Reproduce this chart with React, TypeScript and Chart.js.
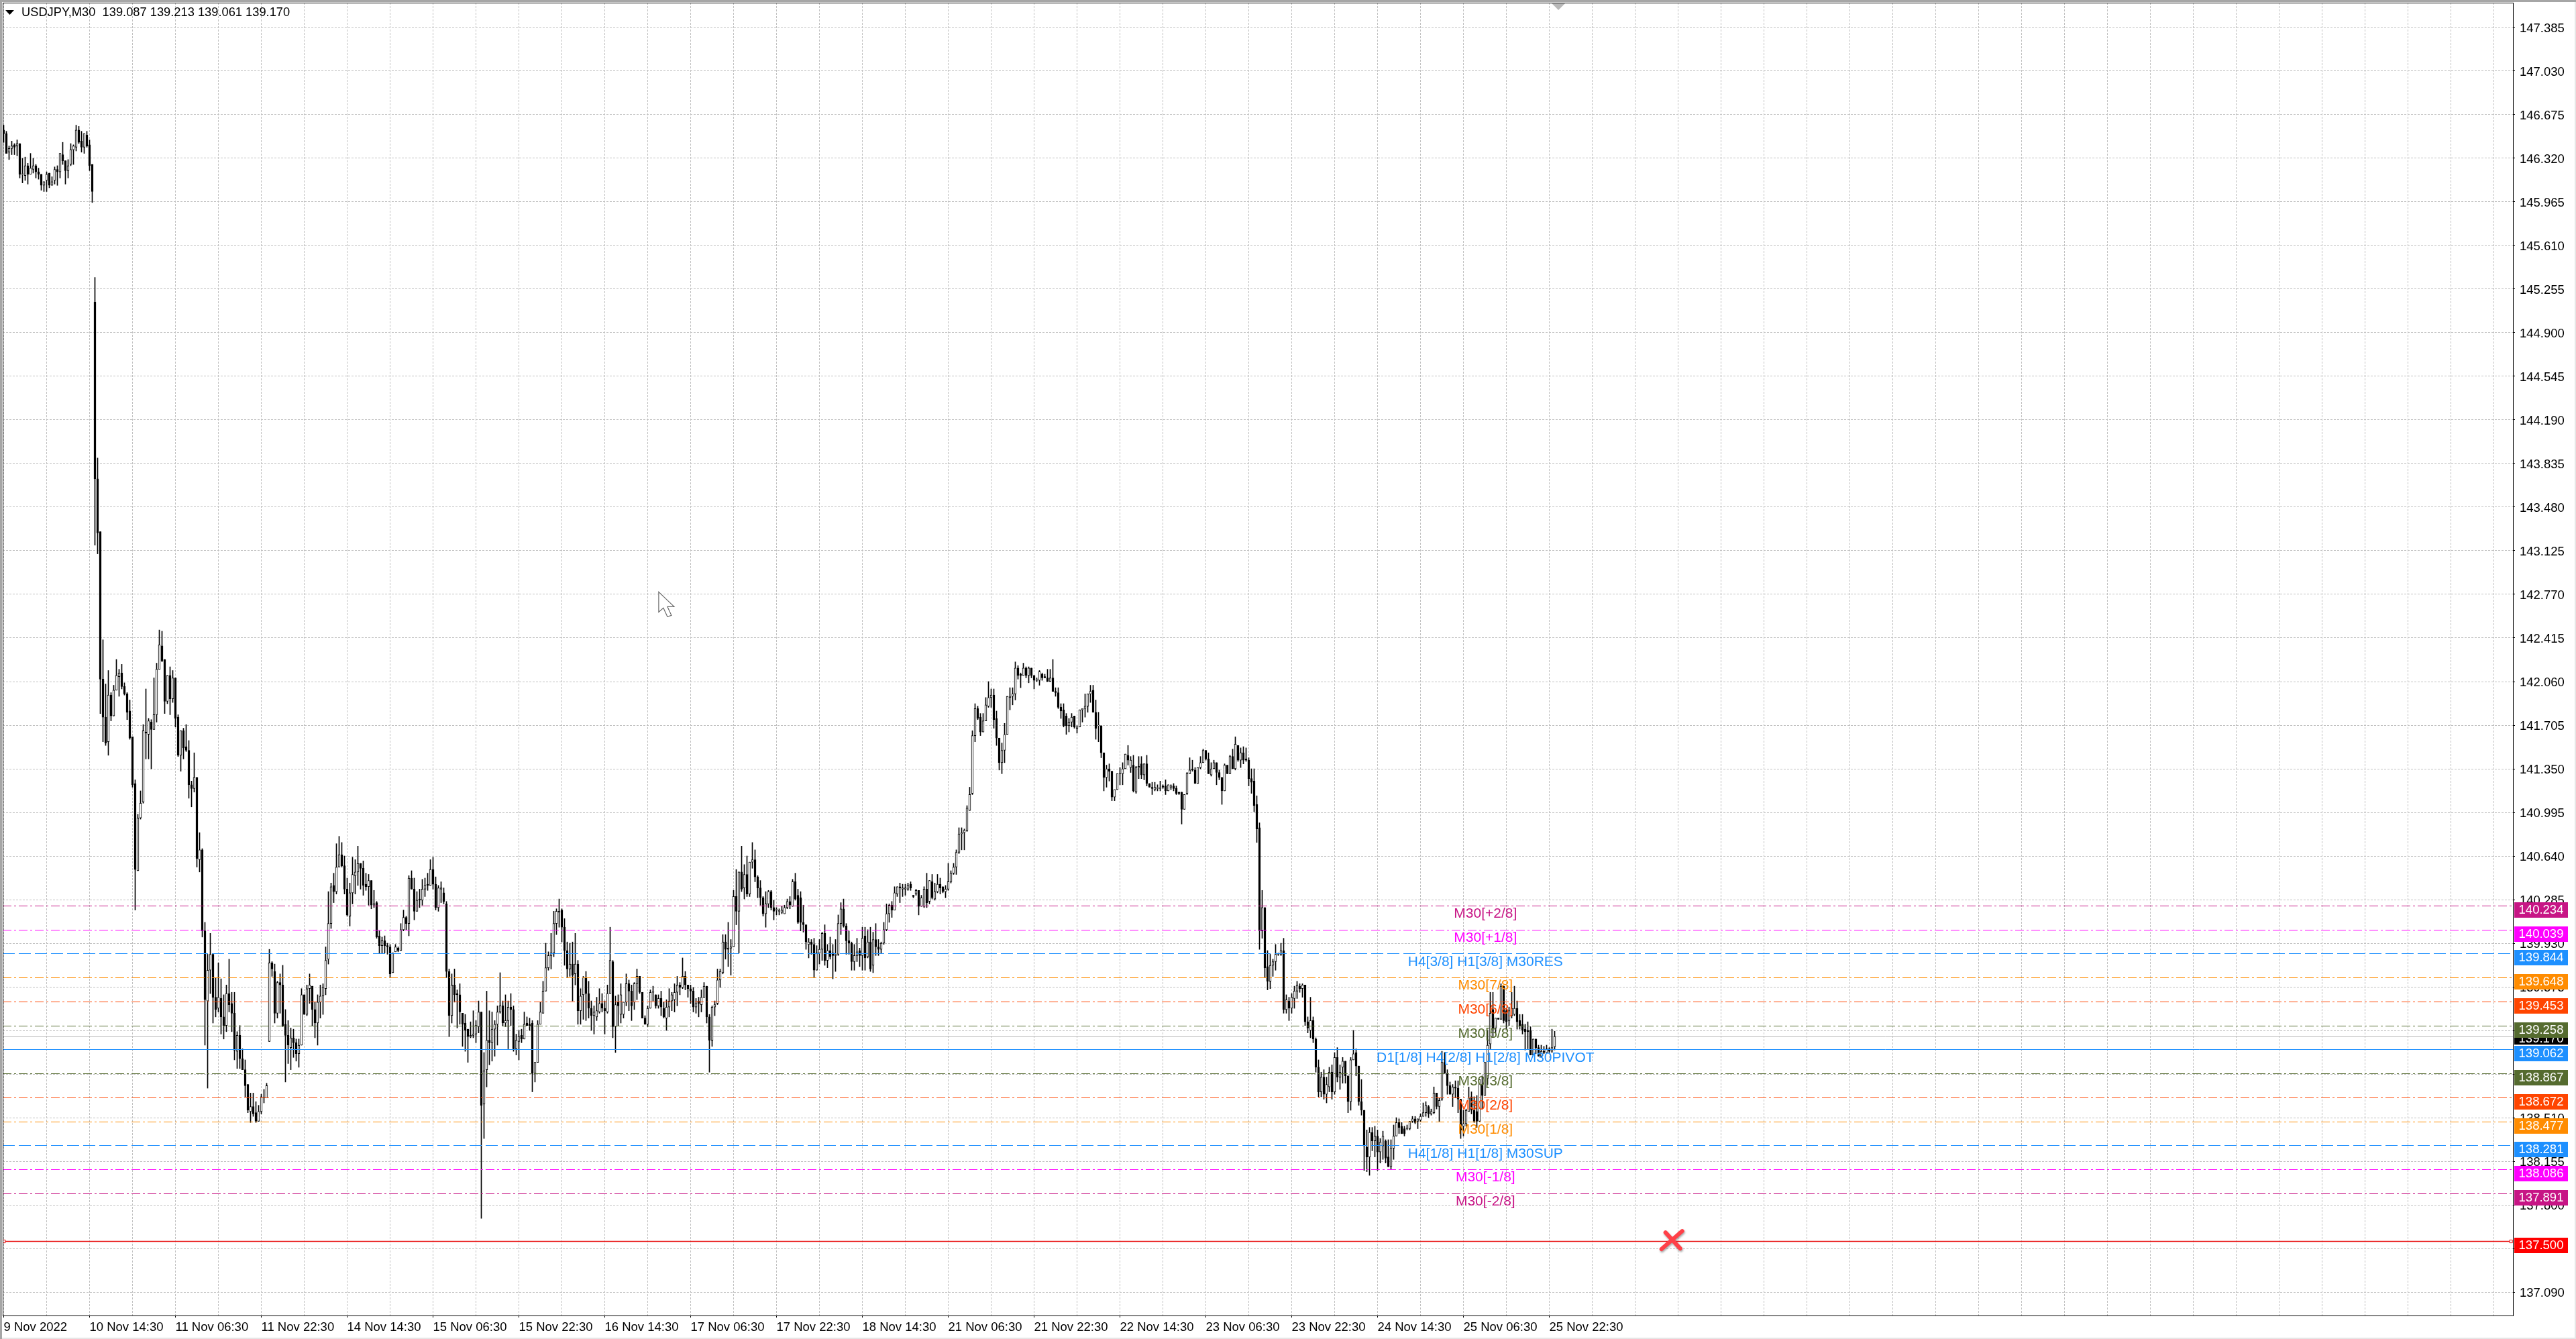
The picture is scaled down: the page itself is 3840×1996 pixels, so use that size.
import { useEffect, useRef } from "react";
import { Chart, registerables } from "chart.js";
Chart.register(...registerables);

// [open, high, low, close], every 32 bars of M30 data starting at 9 Nov 22:30
const bars09Nov = [
[146.55,146.59,146.45,146.52],[146.52,146.54,146.36,146.36],[146.37,146.42,146.31,146.40],[146.40,146.46,146.35,146.42],[146.43,146.44,146.35,146.41],[146.42,146.47,146.34,146.44],[146.44,146.44,146.16,146.19],[146.19,146.32,146.12,146.19],
[146.18,146.33,146.14,146.26],[146.26,146.28,146.11,146.19],[146.19,146.36,146.19,146.24],[146.23,146.32,146.20,146.26],[146.26,146.27,146.16,146.21],[146.21,146.24,146.15,146.19],[146.19,146.19,146.06,146.10],[146.10,146.13,146.05,146.13],
[146.14,146.21,146.05,146.19],[146.20,146.20,146.08,146.10],[146.10,146.17,146.10,146.13],[146.14,146.25,146.11,146.23],[146.23,146.26,146.10,146.21],[146.21,146.36,146.16,146.36],[146.35,146.45,146.27,146.30],[146.30,146.30,146.11,146.22],
[146.22,146.31,146.16,146.26],[146.27,146.44,146.26,146.39],[146.39,146.43,146.27,146.42],[146.41,146.59,146.38,146.55],[146.55,146.58,146.44,146.45],[146.46,146.54,146.37,146.41],[146.41,146.52,146.36,146.52],[146.51,146.54,146.41,146.42],
];
const bars10Nov = [
[146.43,146.47,146.22,146.26],[146.27,146.27,145.96,146.05],[145.15,145.35,143.17,143.71],[143.71,143.88,143.10,143.27],[143.28,143.28,141.80,142.08],[142.08,142.40,141.57,141.77],[141.77,142.04,141.54,141.56],[141.57,142.15,141.46,141.95],
[141.95,141.97,141.74,141.78],[141.78,142.03,141.78,141.99],[141.99,142.24,141.99,142.11],[142.10,142.16,141.94,142.13],[142.13,142.20,142.00,142.02],[142.02,142.05,141.95,141.96],[141.96,141.97,141.75,141.81],[141.82,141.91,141.59,141.60],
[141.61,141.61,141.20,141.22],[141.23,141.26,140.20,140.53],[140.52,140.98,140.52,140.95],[140.95,141.17,140.94,141.07],[141.08,141.71,141.07,141.66],[141.65,142.00,141.43,141.64],[141.63,141.76,141.43,141.74],[141.73,141.75,141.35,141.67],
[141.67,142.09,141.67,141.79],[141.79,142.21,141.73,142.16],[142.16,142.48,142.16,142.36],[142.35,142.47,142.22,142.23],[142.24,142.24,141.80,141.90],[141.90,142.11,141.88,142.11],[142.11,142.18,141.79,141.92],[141.92,142.15,141.89,142.09],
];
const bars11NovA = [
[142.09,142.09,141.69,141.76],[141.77,141.79,141.45,141.46],[141.46,141.66,141.33,141.66],[141.66,141.68,141.43,141.52],[141.53,141.71,141.49,141.50],[141.50,141.58,141.11,141.22],[141.22,141.25,141.04,141.19],[141.19,141.48,141.16,141.28],
[141.28,141.28,140.55,140.62],[140.61,140.83,140.51,140.69],[140.69,140.70,139.98,140.03],[140.03,140.10,139.10,139.47],[139.46,139.84,138.75,139.71],[139.71,140.01,139.52,139.84],[139.84,139.84,139.28,139.49],[139.49,139.65,139.33,139.39],
[139.40,139.77,139.37,139.49],[139.48,139.64,139.19,139.33],[139.33,139.51,139.15,139.26],[139.26,139.59,139.21,139.52],[139.52,139.80,139.37,139.43],[139.44,139.53,139.21,139.36],[139.36,139.53,138.98,139.06],[139.05,139.21,138.91,139.18],
[139.18,139.26,138.91,138.99],[138.99,139.07,138.90,138.90],[138.90,138.98,138.68,138.77],[138.78,138.78,138.55,138.57],[138.56,138.71,138.47,138.60],[138.60,138.71,138.52,138.54],[138.55,138.64,138.47,138.48],[138.48,138.61,138.48,138.56],
];
const bars11NovB = [
[138.56,138.70,138.54,138.68],[138.67,138.74,138.63,138.67],[138.67,138.79,138.67,138.77],[139.13,139.88,139.13,139.77],[139.77,139.78,139.66,139.72],[139.70,139.76,139.28,139.36],[139.36,139.62,139.32,139.61],[139.61,139.68,139.36,139.59],
[139.59,139.75,139.25,139.26],[139.27,139.39,138.80,139.18],[139.18,139.30,138.95,139.10],[139.08,139.24,138.90,139.16],[139.16,139.23,139.00,139.12],[139.12,139.15,138.97,139.03],[139.03,139.15,138.92,139.10],[139.10,139.56,139.10,139.51],
[139.51,139.51,139.35,139.35],[139.35,139.59,139.34,139.56],[139.56,139.68,139.44,139.59],[139.58,139.58,139.26,139.39],[139.39,139.45,139.16,139.28],[139.28,139.51,139.10,139.45],[139.45,139.59,139.32,139.50],[139.50,139.60,139.35,139.57],
[139.56,139.90,139.51,139.79],[139.80,140.35,139.76,140.09],[140.09,140.42,140.05,140.39],[140.40,140.50,140.26,140.35],[140.35,140.74,140.33,140.55],[140.55,140.80,140.55,140.65],[140.65,140.75,140.55,140.56],[140.56,140.64,140.33,140.37],
];
const bars14Nov = [
[140.37,140.46,140.15,140.16],[140.15,140.42,140.07,140.34],[140.34,140.63,140.25,140.49],[140.48,140.61,140.33,140.51],[140.51,140.72,140.40,140.58],[140.58,140.58,140.37,140.54],[140.54,140.60,140.32,140.40],[140.41,140.50,140.36,140.39],
[140.39,140.49,140.24,140.44],[140.44,140.44,140.21,140.24],[140.24,140.36,140.22,140.25],[140.26,140.27,139.97,139.98],[139.99,140.03,139.85,139.91],[139.91,139.98,139.85,139.95],[139.95,139.99,139.85,139.91],[139.91,139.93,139.84,139.90],
[139.90,139.92,139.65,139.68],[139.69,139.85,139.69,139.85],[139.86,139.92,139.86,139.90],[139.89,139.90,139.86,139.87],[139.87,140.09,139.87,140.04],[140.04,140.20,140.03,140.14],[140.14,140.15,140.04,140.09],[140.09,140.48,139.99,140.46],
[140.46,140.52,140.37,140.37],[140.37,140.46,140.12,140.19],[140.19,140.35,140.19,140.28],[140.29,140.37,140.22,140.28],[140.28,140.45,140.24,140.37],[140.37,140.46,140.31,140.40],[140.41,140.50,140.36,140.40],[140.40,140.61,140.40,140.53],
];
const bars15NovA = [
[140.53,140.63,140.37,140.41],[140.41,140.47,140.20,140.22],[140.22,140.40,140.19,140.38],[140.37,140.43,140.26,140.38],[140.34,140.38,140.25,140.27],[140.25,140.27,139.65,139.70],[139.70,139.72,139.17,139.34],[139.34,139.68,139.28,139.59],
[139.59,139.72,139.45,139.51],[139.52,139.55,139.24,139.51],[139.51,139.60,139.27,139.37],[139.36,139.36,139.09,139.27],[139.28,139.35,139.05,139.22],[139.23,139.23,138.96,139.17],[139.17,139.29,139.16,139.18],[139.18,139.38,139.16,139.19],
[139.19,139.30,139.12,139.26],[139.25,139.46,139.20,139.37],[139.37,139.37,137.69,138.61],[138.62,139.04,138.34,138.89],[138.90,139.54,138.76,139.14],[139.14,139.38,138.94,139.12],[139.12,139.37,138.97,139.23],[139.23,139.30,139.01,139.27],
[139.27,139.42,139.10,139.37],[139.37,139.69,139.36,139.42],[139.42,139.46,139.26,139.28],[139.28,139.51,139.25,139.30],[139.30,139.46,139.07,139.41],[139.41,139.52,139.26,139.39],[139.39,139.42,139.05,139.07],[139.07,139.19,139.02,139.14],
];
const bars15NovB = [
[139.13,139.22,138.98,139.17],[139.18,139.23,139.12,139.15],[139.15,139.37,139.15,139.27],[139.28,139.33,139.26,139.26],[139.27,139.32,139.22,139.26],[139.28,139.30,138.72,138.87],[138.87,138.96,138.80,138.96],[138.96,139.30,138.96,139.27],
[139.27,139.45,139.27,139.37],[139.36,139.62,139.36,139.54],[139.54,139.93,139.54,139.73],[139.73,139.86,139.71,139.83],[139.83,140.01,139.72,139.85],[139.85,140.19,139.82,140.09],[140.09,140.21,140.00,140.19],[140.18,140.29,140.06,140.19],
[140.20,140.21,139.94,140.06],[140.06,140.13,139.75,139.87],[139.87,139.94,139.65,139.72],[139.72,139.93,139.66,139.76],[139.76,139.94,139.46,139.67],[139.68,140.01,139.59,139.76],[139.76,139.79,139.27,139.38],[139.38,139.56,139.27,139.50],
[139.51,139.66,139.31,139.65],[139.65,139.70,139.30,139.52],[139.52,139.62,139.32,139.40],[139.40,139.46,139.22,139.34],[139.34,139.42,139.19,139.37],[139.33,139.49,139.30,139.38],[139.37,139.56,139.36,139.44],[139.44,139.52,139.37,139.40],
];
const bars16Nov = [
[139.40,139.46,139.19,139.38],[139.37,139.59,139.36,139.52],[139.52,140.06,139.52,139.79],[139.78,139.79,139.16,139.25],[139.25,139.50,139.04,139.43],[139.45,139.51,139.26,139.42],[139.35,139.60,139.28,139.51],[139.35,139.45,139.32,139.45],
[139.45,139.68,139.42,139.60],[139.60,139.63,139.38,139.54],[139.54,139.59,139.30,139.42],[139.45,139.61,139.39,139.60],[139.60,139.72,139.47,139.66],[139.66,139.66,139.52,139.53],[139.53,139.53,139.32,139.32],[139.32,139.34,139.27,139.27],
[139.27,139.42,139.25,139.40],[139.40,139.55,139.40,139.53],[139.53,139.58,139.46,139.53],[139.51,139.51,139.40,139.42],[139.42,139.51,139.40,139.48],[139.48,139.54,139.34,139.41],[139.40,139.45,139.32,139.33],[139.32,139.47,139.22,139.41],
[139.41,139.56,139.33,139.46],[139.46,139.53,139.38,139.51],[139.47,139.60,139.37,139.53],[139.53,139.66,139.42,139.59],[139.59,139.61,139.51,139.57],[139.57,139.81,139.56,139.66],[139.66,139.70,139.55,139.59],[139.59,139.59,139.49,139.56],
];
const bars17NovA = [
[139.56,139.59,139.44,139.54],[139.54,139.57,139.37,139.41],[139.41,139.48,139.36,139.44],[139.46,139.49,139.33,139.44],[139.43,139.55,139.37,139.49],[139.49,139.61,139.49,139.58],[139.58,139.58,139.28,139.33],[139.33,139.35,138.88,139.14],
[139.14,139.42,139.09,139.41],[139.41,139.46,139.34,139.43],[139.44,139.72,139.43,139.63],[139.63,139.72,139.57,139.70],[139.69,140.00,139.68,139.94],[139.94,140.00,139.80,139.88],[139.88,140.10,139.74,139.89],[139.89,139.96,139.67,139.90],
[139.90,140.36,139.90,140.31],[140.31,140.53,140.08,140.19],[140.19,140.51,139.85,140.51],[140.51,140.72,140.35,140.37],[140.38,140.57,140.29,140.49],[140.49,140.64,140.31,140.33],[140.33,140.59,140.31,140.59],[140.59,140.75,140.54,140.61],
[140.61,140.69,140.43,140.47],[140.47,140.48,140.30,140.38],[140.38,140.44,140.24,140.30],[140.30,140.31,140.15,140.17],[140.17,140.35,140.06,140.25],[140.25,140.36,140.22,140.35],[140.35,140.36,140.20,140.22],[140.22,140.28,140.12,140.19],
];
const bars17NovB = [
[140.20,140.22,140.16,140.20],[140.19,140.21,140.16,140.19],[140.18,140.23,140.17,140.20],[140.17,140.24,140.17,140.22],[140.22,140.29,140.21,140.27],[140.27,140.31,140.21,140.24],[140.23,140.45,140.23,140.43],[140.43,140.50,140.28,140.29],
[140.32,140.37,140.09,140.10],[140.30,140.35,140.03,140.10],[140.10,140.24,140.02,140.08],[140.08,140.08,139.88,139.94],[139.92,139.97,139.81,139.94],[139.94,139.96,139.84,139.92],[139.92,139.97,139.65,139.71],[139.71,139.91,139.71,139.85],
[139.85,139.96,139.76,139.88],[139.88,140.02,139.79,140.01],[140.01,140.08,139.75,139.79],[139.79,139.92,139.73,139.87],[139.87,139.98,139.80,139.82],[139.85,139.92,139.64,139.83],[139.83,139.96,139.70,139.84],[139.84,140.16,139.83,140.09],
[140.09,140.26,140.00,140.21],[140.21,140.29,140.06,140.07],[140.07,140.09,139.84,139.95],[139.95,140.03,139.84,139.93],[139.93,139.94,139.71,139.78],[139.78,139.92,139.71,139.83],[139.83,139.97,139.78,139.86],[139.87,139.89,139.74,139.83],
];
const bars18Nov = [
[139.83,140.06,139.71,139.97],[139.99,140.06,139.71,139.81],[139.82,140.04,139.81,139.94],[139.94,140.06,139.70,139.72],[139.75,140.02,139.69,139.96],[139.96,140.09,139.83,139.90],[139.90,139.96,139.83,139.88],[139.88,139.94,139.85,139.93],
[139.93,140.10,139.92,140.04],[140.04,140.25,140.03,140.17],[140.17,140.25,140.10,140.24],[140.24,140.27,140.14,140.20],[140.20,140.39,140.20,140.34],[140.33,140.39,140.31,140.39],[140.39,140.42,140.26,140.38],[140.37,140.41,140.31,140.38],
[140.37,140.41,140.32,140.38],[140.37,140.42,140.36,140.40],[140.41,140.43,140.36,140.38],[140.32,140.32,140.30,140.31],[140.33,140.37,140.32,140.36],[140.36,140.36,140.16,140.23],[140.23,140.32,140.23,140.30],[140.23,140.39,140.22,140.37],
[140.37,140.50,140.22,140.26],[140.27,140.44,140.25,140.44],[140.43,140.49,140.29,140.30],[140.29,140.42,140.28,140.35],[140.35,140.49,140.34,140.41],[140.41,140.46,140.33,140.38],[140.39,140.39,140.34,140.35],[140.35,140.40,140.30,140.37],
];
const bars21NovA = [
[140.37,140.58,140.36,140.43],[140.43,140.52,140.42,140.50],[140.50,140.58,140.49,140.55],[140.55,140.69,140.49,140.67],[140.67,140.87,140.66,140.82],[140.82,140.87,140.69,140.83],[140.83,140.86,140.69,140.85],[140.85,141.05,140.84,141.03],
[141.01,141.20,141.01,141.14],[141.15,141.66,141.14,141.62],[141.62,141.88,141.57,141.84],[141.84,141.86,141.75,141.76],[141.77,141.80,141.62,141.65],[141.65,141.80,141.65,141.74],[141.74,141.93,141.74,141.87],[141.86,142.06,141.85,141.93],
[141.93,142.00,141.85,141.95],[141.95,142.00,141.68,141.75],[141.76,141.82,141.54,141.60],[141.60,141.60,141.34,141.40],[141.40,141.56,141.31,141.50],[141.50,141.72,141.40,141.63],[141.63,141.94,141.63,141.94],[141.93,142.01,141.83,141.94],
[141.94,142.01,141.87,141.96],[141.96,142.22,141.91,142.17],[142.17,142.19,142.08,142.11],[142.12,142.13,142.01,142.11],[142.11,142.21,142.11,142.17],[142.17,142.18,142.09,142.11],[142.11,142.18,142.05,142.17],[142.17,142.17,142.09,142.11],
];
const bars21NovB = [
[142.11,142.11,142.00,142.07],[142.07,142.09,142.06,142.07],[142.07,142.15,142.03,142.14],[142.12,142.13,142.07,142.09],[142.10,142.12,142.09,142.09],[142.09,142.16,142.06,142.06],[142.06,142.16,142.06,142.09],[142.09,142.24,141.98,141.98],
[141.98,142.01,141.94,141.97],[141.97,142.01,141.84,141.85],[141.85,141.88,141.76,141.82],[141.83,141.88,141.69,141.70],[141.78,141.80,141.63,141.70],[141.70,141.76,141.65,141.73],[141.73,141.80,141.69,141.77],[141.78,141.78,141.68,141.69],
[141.68,141.70,141.64,141.69],[141.69,141.83,141.69,141.83],[141.83,141.84,141.73,141.84],[141.84,141.96,141.77,141.86],[141.86,141.96,141.81,141.96],[141.96,142.03,141.89,141.98],[141.99,142.03,141.81,141.81],[141.81,141.91,141.59,141.68],
[141.70,141.81,141.57,141.70],[141.70,141.70,141.44,141.48],[141.48,141.48,141.17,141.28],[141.28,141.38,141.20,141.35],[141.35,141.39,141.25,141.33],[141.33,141.33,141.09,141.12],[141.12,141.18,141.09,141.18],[141.18,141.31,141.18,141.31],
];
const bars22Nov = [
[141.31,141.36,141.22,141.31],[141.31,141.40,141.22,141.35],[141.35,141.47,141.35,141.47],[141.46,141.54,141.38,141.42],[141.36,141.45,141.32,141.42],[141.38,141.46,141.16,141.17],[141.16,141.37,141.15,141.36],[141.36,141.45,141.27,141.37],
[141.39,141.45,141.27,141.30],[141.30,141.39,141.26,141.39],[141.39,141.46,141.21,141.23],[141.23,141.23,141.20,141.20],[141.20,141.24,141.14,141.19],[141.18,141.24,141.17,141.20],[141.19,141.22,141.17,141.19],[141.19,141.25,141.17,141.19],
[141.21,141.22,141.19,141.20],[141.21,141.26,141.14,141.17],[141.17,141.22,141.17,141.22],[141.20,141.22,141.18,141.21],[141.21,141.23,141.17,141.19],[141.19,141.21,141.14,141.15],[141.16,141.16,141.14,141.15],[141.16,141.16,140.90,141.02],
[141.02,141.14,141.02,141.14],[141.15,141.32,141.14,141.31],[141.31,141.44,141.31,141.34],[141.35,141.42,141.33,141.34],[141.34,141.36,141.23,141.23],[141.23,141.36,141.23,141.36],[141.36,141.45,141.35,141.40],[141.40,141.51,141.40,141.50],
];
const bars23NovA = [
[141.50,141.50,141.42,141.43],[141.43,141.48,141.31,141.31],[141.30,141.40,141.29,141.35],[141.35,141.42,141.35,141.40],[141.40,141.40,141.22,141.32],[141.32,141.34,141.26,141.28],[141.28,141.28,141.06,141.17],[141.17,141.39,141.17,141.38],
[141.38,141.38,141.31,141.31],[141.31,141.46,141.31,141.45],[141.45,141.51,141.35,141.35],[141.35,141.61,141.34,141.55],[141.54,141.54,141.41,141.42],[141.42,141.52,141.36,141.48],[141.48,141.53,141.39,141.42],[141.43,141.52,141.41,141.42],
[141.42,141.44,141.21,141.27],[141.27,141.35,141.15,141.24],[141.25,141.35,141.00,141.05],[141.06,141.13,140.75,140.86],[140.87,140.91,139.88,140.03],[140.03,140.36,139.97,140.22],[140.22,140.22,139.65,139.73],[139.74,139.87,139.55,139.62],
[139.62,139.84,139.56,139.75],[139.75,139.80,139.66,139.78],[139.78,139.92,139.71,139.84],[139.84,139.85,139.83,139.84],[139.84,139.93,139.83,139.87],[139.87,139.97,139.36,139.39],[139.39,139.51,139.36,139.47],[139.46,139.49,139.30,139.40],
];
const bars23NovB = [
[139.40,139.52,139.36,139.49],[139.48,139.58,139.40,139.54],[139.54,139.62,139.48,139.59],[139.58,139.60,139.53,139.56],[139.56,139.60,139.49,139.59],[139.59,139.59,139.26,139.29],[139.29,139.33,139.20,139.24],[139.22,139.49,139.16,139.30],
[139.30,139.33,139.12,139.15],[139.15,139.16,138.88,138.92],[138.92,138.98,138.68,138.72],[138.72,138.88,138.68,138.84],[138.84,138.90,138.66,138.70],[138.70,138.84,138.63,138.78],[138.76,138.92,138.72,138.88],[138.88,138.94,138.66,138.72],
[138.72,139.04,138.70,139.00],[139.00,139.08,138.80,138.84],[138.84,138.94,138.74,138.88],[138.92,139.00,138.79,138.97],[138.97,138.97,138.79,138.85],[138.85,138.85,138.55,138.64],[138.64,139.00,138.57,138.98],[138.98,139.22,138.98,139.03],
[139.04,139.07,138.85,138.93],[138.93,138.93,138.61,138.64],[138.64,138.82,138.53,138.57],[138.57,138.57,138.08,138.28],[138.27,138.41,138.07,138.19],[138.19,138.43,138.04,138.39],[138.39,138.43,138.24,138.32],[138.32,138.44,138.19,138.36],
];
const bars24Nov = [
[138.36,138.41,138.08,138.23],[138.23,138.34,138.14,138.31],[138.28,138.40,138.17,138.36],[138.32,138.33,138.14,138.18],[138.19,138.33,138.11,138.11],[138.11,138.33,138.09,138.26],[138.26,138.45,138.17,138.36],[138.36,138.51,138.36,138.47],
[138.47,138.50,138.38,138.43],[138.44,138.47,138.38,138.38],[138.42,138.44,138.36,138.38],[138.42,138.45,138.41,138.42],[138.42,138.48,138.41,138.48],[138.48,138.52,138.47,138.50],[138.50,138.52,138.46,138.47],[138.48,138.50,138.42,138.50],
[138.49,138.54,138.48,138.52],[138.52,138.63,138.52,138.55],[138.55,138.64,138.52,138.61],[138.60,138.61,138.51,138.54],[138.54,138.58,138.53,138.56],[138.55,138.76,138.54,138.71],[138.71,138.71,138.58,138.60],[138.60,138.67,138.48,138.65],
[138.66,139.05,138.65,138.96],[138.96,139.04,138.87,138.87],[138.87,138.90,138.70,138.77],[138.77,138.80,138.70,138.70],[138.70,138.78,138.60,138.76],[138.76,138.81,138.67,138.75],[138.75,138.81,138.55,138.66],[138.66,138.66,138.34,138.41],
];
const bars25Nov = [
[138.44,138.57,138.36,138.46],[138.46,138.58,138.44,138.57],[138.56,138.76,138.56,138.67],[138.68,138.72,138.54,138.57],[138.57,138.68,138.47,138.48],[138.56,138.69,138.43,138.48],[138.48,138.82,138.48,138.82],[138.78,138.85,138.58,138.69],
[138.69,138.96,138.69,138.96],[138.83,139.22,138.78,139.10],[139.11,139.53,139.07,139.36],[139.39,139.53,139.17,139.24],[139.24,139.32,139.20,139.32],[139.32,139.32,139.31,139.31],[139.31,139.60,139.31,139.58],[139.58,139.58,139.28,139.30],
[139.38,139.40,139.23,139.29],[139.30,139.41,139.26,139.38],[139.34,139.53,139.32,139.40],[139.35,139.58,139.34,139.40],[139.40,139.46,139.23,139.29],[139.30,139.35,139.23,139.26],[139.27,139.35,139.19,139.22],[139.23,139.27,139.06,139.21],
[139.22,139.29,139.07,139.21],[139.22,139.25,139.02,139.02],[139.02,139.15,139.02,139.15],[139.15,139.15,139.03,139.08],[139.08,139.10,139.01,139.01],[139.01,139.10,139.00,139.05],[139.05,139.09,139.03,139.04],[139.04,139.10,139.04,139.07],
[139.07,139.08,139.04,139.05],[139.05,139.23,139.04,139.08],[139.087,139.213,139.061,139.170],
];

const levelNames = ["M30[+2/8]", "M30[+1/8]", "H4[3/8] H1[3/8] M30RES", "M30[7/8]", "M30[6/8]", "M30[5/8]", "D1[1/8] H4[2/8] H1[2/8] M30PIVOT", "M30[3/8]", "M30[2/8]", "M30[1/8]", "H4[1/8] H1[1/8] M30SUP", "M30[-1/8]", "M30[-2/8]"];
const levelValues = [140.234, 140.039, 139.844, 139.648, 139.453, 139.258, 139.062, 138.867, 138.672, 138.477, 138.281, 138.086, 137.891];
const levelColors = ["#C71585", "#FF00FF", "#1E90FF", "#FF8C00", "#FF4500", "#556B2F", "#1E90FF", "#556B2F", "#FF4500", "#FF8C00", "#1E90FF", "#FF00FF", "#C71585"];
const levelDashes = [[13, 4, 3, 4], [13, 4, 3, 4], [18, 6], [13, 4, 3, 4], [13, 4, 3, 4], [13, 4, 3, 4], [], [13, 4, 3, 4], [13, 4, 3, 4], [13, 4, 3, 4], [18, 6], [13, 4, 3, 4], [13, 4, 3, 4]];
const currentPrice = 139.17;
const stopPrice = 137.5;
const yTickValues = [137.09, 137.445, 137.8, 138.155, 138.51, 138.865, 139.22, 139.575, 139.93, 140.285, 140.64, 140.995, 141.35, 141.705, 142.06, 142.415, 142.77, 143.125, 143.48, 143.835, 144.19, 144.545, 144.9, 145.255, 145.61, 145.965, 146.32, 146.675, 147.03, 147.385];
const xTickLabels = ["9 Nov 2022", "10 Nov 14:30", "11 Nov 06:30", "11 Nov 22:30", "14 Nov 14:30", "15 Nov 06:30", "15 Nov 22:30", "16 Nov 14:30", "17 Nov 06:30", "17 Nov 22:30", "18 Nov 14:30", "21 Nov 06:30", "21 Nov 22:30", "22 Nov 14:30", "23 Nov 06:30", "23 Nov 22:30", "24 Nov 14:30", "25 Nov 06:30", "25 Nov 22:30"];
const titleText = "USDJPY,M30  139.087 139.213 139.061 139.170";
const FONT = '"Liberation Sans", Arial, sans-serif';

const bars = [...bars09Nov, ...bars10Nov, ...bars11NovA, ...bars11NovB, ...bars14Nov, ...bars15NovA, ...bars15NovB, ...bars16Nov, ...bars17NovA, ...bars17NovB, ...bars18Nov, ...bars21NovA, ...bars21NovB, ...bars22Nov, ...bars23NovA, ...bars23NovB, ...bars24Nov, ...bars25Nov];

const LEFT = 4, RIGHT = 3746, BOTTOM = 1961, TOP = 4;
const xMin = (LEFT - 5.5) / 4;
const xMax = (RIGHT - 5.5) / 4;
const yMin = 137.09 - (BOTTOM - 1926) / 183.1;
const yMax = 147.385 + (41 - TOP) / 183.1;

const framePlugin = {
  id: "frame",
  afterLayout(chart: any) {
    const { x, y } = chart.scales;
    chart.chartArea = { left: LEFT, top: TOP, right: RIGHT, bottom: BOTTOM, width: RIGHT - LEFT, height: BOTTOM - TOP };
    x.left = LEFT; x.right = RIGHT; x.width = RIGHT - LEFT; x.top = BOTTOM; x.bottom = 1996; x.height = 1996 - BOTTOM;
    y.left = RIGHT; y.right = 3840; y.width = 3840 - RIGHT; y.top = TOP; y.bottom = BOTTOM; y.height = BOTTOM - TOP;
    x.configure();
    y.configure();
    x._labelItems = null;
    y._labelItems = null;
    x._gridLineItems = null;
    y._gridLineItems = null;
  },
  beforeDraw(chart: any) {
    const { ctx, width, height } = chart;
    ctx.save();
    ctx.fillStyle = "#fff";
    ctx.fillRect(0, 0, width, height);
    ctx.fillStyle = "#e6e6e6";
    ctx.fillRect(width - 2, 0, 2, height);
    ctx.fillRect(0, height - 2, width, 2);
    ctx.restore();
  },
  beforeDatasetDraw(chart: any, args: any) {
    const ds = chart.data.datasets[args.index];
    if (ds.type !== "line") return;
    const p = chart.scales.y.getPixelForValue(ds.data[0].y);
    const snapped = Math.round(p - 0.5) + 0.5;
    chart.ctx.save();
    chart.ctx.translate(0, snapped - p);
  },
  afterDatasetDraw(chart: any, args: any) {
    const ds = chart.data.datasets[args.index];
    if (ds.type === "line") chart.ctx.restore();
  },
  afterDraw(chart: any) {
    const { ctx, scales } = chart;
    const x = scales.x;
    const y = scales.y;
    ctx.save();

    // level names over the candles
    ctx.font = `21px ${FONT}`;
    ctx.textAlign = "center";
    ctx.textBaseline = "middle";
    levelNames.forEach((name, i) => {
      ctx.fillStyle = levelColors[i];
      ctx.fillText(name, x.getPixelForValue(552.2), y.getPixelForValue(levelValues[i]) + 12);
    });

    // frame
    ctx.fillStyle = "#a6a6a6";
    ctx.fillRect(0, 0, chart.width, 3);
    ctx.fillRect(0, 0, 3, chart.height);
    ctx.fillStyle = "#000";
    ctx.fillRect(LEFT, TOP, RIGHT - LEFT + 1, 1);
    ctx.fillRect(LEFT, TOP, 1, BOTTOM - TOP);
    ctx.fillRect(RIGHT, TOP, 1, BOTTOM - TOP + 1);
    ctx.fillRect(LEFT, BOTTOM, RIGHT - LEFT + 1, 1);

    // price tags on the axis
    ctx.font = `18.5px ${FONT}`;
    ctx.textAlign = "center";
    const cp = y.getPixelForValue(currentPrice);
    ctx.fillStyle = "#000";
    ctx.fillRect(3748, cp - 6, 80, 18);
    ctx.fillStyle = "#fff";
    ctx.fillText(currentPrice.toFixed(3), 3788, cp + 4);
    const tag = (v: number, c: string) => {
      const py = y.getPixelForValue(v);
      ctx.fillStyle = c;
      ctx.fillRect(3748, Math.round(py - 5.5), 80, 23);
      ctx.fillStyle = "#fff";
      ctx.fillText(v.toFixed(3), 3788, Math.round(py - 5.5) + 12);
    };
    levelValues.forEach((v, i) => tag(v, levelColors[i]));
    tag(stopPrice, "#FF0000");

    // title
    ctx.fillStyle = "#000";
    ctx.textAlign = "left";
    ctx.font = `18.3px ${FONT}`;
    ctx.fillText(titleText, 32, 19);
    ctx.beginPath();
    ctx.moveTo(8, 15);
    ctx.lineTo(21, 15);
    ctx.lineTo(14.5, 22);
    ctx.closePath();
    ctx.fill();

    // chart-shift marker
    const mx = x.getPixelForValue(579.4);
    ctx.fillStyle = "#b8b8b8";
    ctx.beginPath();
    ctx.moveTo(mx - 10, 5);
    ctx.lineTo(mx + 10, 5);
    ctx.lineTo(mx, 15);
    ctx.closePath();
    ctx.fill();

    // red cross on the stop line
    const cx = x.getPixelForValue(621.55);
    const cy = y.getPixelForValue(137.51);
    ctx.save();
    ctx.strokeStyle = "#FF4048";
    ctx.lineWidth = 6;
    ctx.lineCap = "round";
    ctx.shadowColor = "rgba(0,0,0,0.35)";
    ctx.shadowBlur = 3;
    ctx.shadowOffsetX = 1;
    ctx.shadowOffsetY = 2;
    ctx.beginPath();
    ctx.moveTo(cx - 15, cy + 13);
    ctx.lineTo(cx + 16, cy - 14);
    ctx.moveTo(cx - 9, cy - 12);
    ctx.lineTo(cx + 13, cy + 12);
    ctx.stroke();
    ctx.restore();

    // mouse pointer
    const ax = x.getPixelForValue(244.1);
    const ay = y.getPixelForValue(142.79);
    ctx.fillStyle = "#fff";
    ctx.strokeStyle = "#6a6a6a";
    ctx.lineWidth = 1.2;
    ctx.beginPath();
    [[0, 0], [0, 30], [7, 24], [13, 37], [19, 35], [13, 22], [23, 22]].forEach(([dx, dy], i) => {
      if (i === 0) ctx.moveTo(ax + dx, ay + dy);
      else ctx.lineTo(ax + dx, ay + dy);
    });
    ctx.closePath();
    ctx.fill();
    ctx.stroke();
    ctx.restore();
  },
};

export default function App() {
  const ref = useRef<HTMLCanvasElement>(null);
  useEffect(() => {
    const wicks = bars.map((b, i) => ({ x: i, y: [b[2], b[1]] }));
    const bodies = bars.map((b, i) => ({ x: i, y: [Math.min(b[0], b[3]), Math.max(b[0], b[3])] }));
    const fills = bars.map((b) => (b[3] >= b[0] ? "#ffffff" : "#000000"));
    const lineData = (v: number) => [{ x: xMin, y: v }, { x: xMax, y: v }];
    const xGridTicks: number[] = [];
    for (let v = 0; v <= xMax; v += 16) xGridTicks.push(v);

    const datasets: any[] = [
      { type: "line", data: lineData(currentPrice), borderColor: "#bdbdbd", borderWidth: 1, pointRadius: 0, order: 6 },
      { type: "bar", data: wicks, backgroundColor: "#000000", barThickness: 1, grouped: false, order: 5, minBarLength: 1 },
      { type: "bar", data: bodies, backgroundColor: fills, borderColor: "#000000", borderWidth: 1, borderSkipped: false, barThickness: 3, grouped: false, order: 4, minBarLength: 1 },
      ...levelValues.map((v, i) => ({ type: "line", data: lineData(v), borderColor: levelColors[i], borderWidth: 1, borderDash: levelDashes[i], pointRadius: 0, order: 2 })),
      { type: "line", data: [{ x: 0.1, y: stopPrice }, { x: 934.4, y: stopPrice }], borderColor: "#e81414", borderWidth: 1.6, pointStyle: "rect", pointRadius: 3, pointBorderColor: "#e81414", pointBackgroundColor: "#ffffff", pointBorderWidth: 1, order: 1 },
    ];

    const chart = new Chart(ref.current as HTMLCanvasElement, {
      type: "bar",
      data: { datasets },
      plugins: [framePlugin as any],
      options: {
        animation: false,
        responsive: false,
        devicePixelRatio: 1,
        layout: { autoPadding: false, padding: { left: LEFT, top: TOP, right: 0, bottom: 0 } },
        plugins: { legend: { display: false }, title: { display: false }, tooltip: { enabled: false } },
        scales: {
          x: {
            type: "linear",
            position: "bottom",
            min: xMin,
            max: xMax,
            offset: false,
            afterFit: (s: any) => { s.height = 1996 - BOTTOM; },
            afterBuildTicks: (s: any) => { s.ticks = xGridTicks.map((value) => ({ value })); },
            border: { display: false, dash: [3, 2] },
            grid: {
              offset: false,
              color: "#c0c0c0",
              lineWidth: 1,
              tickLength: 3,
              tickBorderDash: [],
              tickColor: (c: any) => (c.tick && c.tick.value % 32 === 0 && c.tick.value / 32 < xTickLabels.length ? "#000000" : "rgba(0,0,0,0)"),
            },
            ticks: {
              autoSkip: false,
              maxRotation: 0,
              minRotation: 0,
              align: "start",
              padding: 4,
              color: "#000",
              font: { family: FONT, size: 18.5 },
              callback: (v: any) => (v % 32 === 0 ? xTickLabels[v / 32] ?? "" : ""),
            },
          },
          y: {
            type: "linear",
            position: "right",
            min: yMin,
            max: yMax,
            afterFit: (s: any) => { s.width = 3840 - RIGHT; },
            afterBuildTicks: (s: any) => { s.ticks = yTickValues.map((value) => ({ value })); },
            border: { display: false, dash: [3, 2] },
            grid: { color: "#c0c0c0", lineWidth: 1, tickLength: 3, tickBorderDash: [], tickColor: "#000000" },
            ticks: {
              autoSkip: false,
              padding: 7,
              labelOffset: 2,
              color: "#000",
              font: { family: FONT, size: 18.5 },
              callback: (v: any) => Number(v).toFixed(3),
            },
          },
        },
      } as any,
    });
    return () => chart.destroy();
  }, []);
  return (
    <canvas
      ref={ref}
      width={3840}
      height={1996}
      style={{ position: "fixed", left: 0, top: 0, width: 3840, height: 1996, display: "block" }}
    />
  );
}
